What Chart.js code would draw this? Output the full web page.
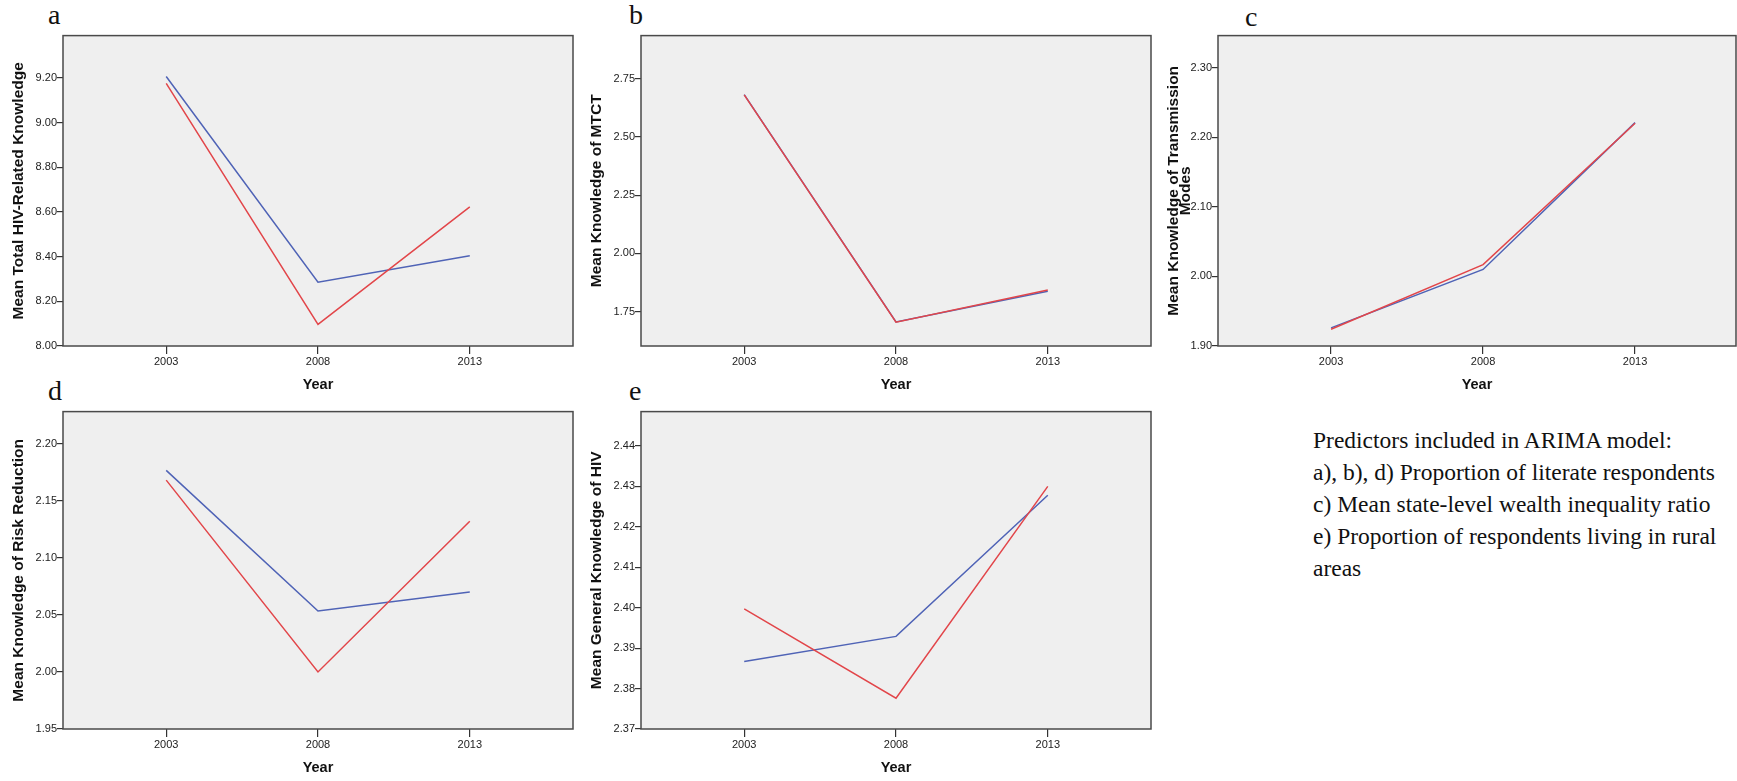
<!DOCTYPE html>
<html>
<head>
<meta charset="utf-8">
<script src="https://cdn.jsdelivr.net/npm/chart.js@4.4.1/dist/chart.umd.min.js"></script>
<style>
  html, body { margin: 0; padding: 0; background: #fff; }
  body { position: relative; width: 1737px; height: 781px; overflow: hidden; }
  .panel { position: absolute; }
  .panel canvas { display: block; }
  .letter {
    position: absolute;
    font-family: "Liberation Serif", "Times New Roman", serif;
    font-size: 28px; line-height: 28px; color: #111;
  }
  #note {
    position: absolute; left: 1313px; top: 424px;
    font-family: "Liberation Serif", "Times New Roman", serif;
    font-size: 23.5px; line-height: 32px; color: #111; white-space: nowrap;
  }
</style>
</head>
<body>

<div class="letter" style="left:48px;top:1px">a</div>
<div class="letter" style="left:629px;top:1px">b</div>
<div class="letter" style="left:1245px;top:3px">c</div>
<div class="letter" style="left:48px;top:377px">d</div>
<div class="letter" style="left:629px;top:377px">e</div>

<div id="note">
  <div>Predictors included in ARIMA model:</div>
  <div>a), b), d) Proportion of literate respondents</div>
  <div>c) Mean state-level wealth inequality ratio</div>
  <div>e) Proportion of respondents living in rural</div>
  <div>areas</div>
</div>

<script>
// survey rounds
const years = [2003, 2008, 2013];

// a) total HIV-related knowledge
const observedTotal = [9.207, 8.286, 8.404];
const fitTotal      = [9.176, 8.097, 8.623];
const ticksTotal    = [8.00, 8.20, 8.40, 8.60, 8.80, 9.00, 9.20];

// b) knowledge of MTCT
const observedMtct = [2.681, 1.706, 1.838];
const fitMtct      = [2.680, 1.705, 1.843];
const ticksMtct    = [1.75, 2.00, 2.25, 2.50, 2.75];

// c) knowledge of transmission modes
const observedTrans = [1.926, 2.010, 2.221];
const fitTrans      = [1.924, 2.017, 2.220];
const ticksTrans    = [1.90, 2.00, 2.10, 2.20, 2.30];

// d) knowledge of risk reduction
const observedRisk = [2.1765, 2.0534, 2.070];
const fitRisk      = [2.168, 2.000, 2.132];
const ticksRisk    = [1.95, 2.00, 2.05, 2.10, 2.15, 2.20];

// e) general knowledge of HIV
const observedGen = [2.3867, 2.3929, 2.4278];
const fitGen      = [2.3997, 2.3776, 2.4300];
const ticksGen    = [2.37, 2.38, 2.39, 2.40, 2.41, 2.42, 2.43, 2.44];

const BLUE = '#4f63b6';
const RED = '#e2464a';
const AXIS_W = 63;   // room for y ticks + title
const XAXIS_H = 55;  // room for year ticks + title
const PAD = 2;

const plotFrame = {
  id: 'plotFrame',
  beforeDraw(chart) {
    const { ctx, chartArea: a } = chart;
    ctx.save();
    ctx.fillStyle = '#efefef';
    ctx.fillRect(a.left, a.top, a.right - a.left, a.bottom - a.top);
    ctx.restore();
  },
  afterDraw(chart) {
    const { ctx, chartArea: a } = chart;
    ctx.save();
    ctx.strokeStyle = '#4a4a4a';
    ctx.lineWidth = 1.5;
    ctx.strokeRect(a.left, a.top, a.right - a.left, a.bottom - a.top);
    ctx.restore();
  }
};

function toPoints(vals) {
  return years.map((y, i) => ({ x: y, y: vals[i] }));
}

function buildPanel(p) {
  const [bx, by, bw, bh] = p.box;
  const w = bw + AXIS_W + PAD, h = bh + PAD + XAXIS_H;
  const wrap = document.createElement('div');
  wrap.className = 'panel';
  wrap.style.left = (bx - AXIS_W) + 'px';
  wrap.style.top = (by - PAD) + 'px';
  const cv = document.createElement('canvas');
  cv.width = w; cv.height = h;
  wrap.appendChild(cv);
  document.body.appendChild(wrap);

  const tickFont = { family: 'Liberation Sans, Arial, sans-serif', size: 11 };
  const titleFont = { family: 'Liberation Sans, Arial, sans-serif', size: 15.5, weight: 'bold' };

  new Chart(cv, {
    type: 'line',
    data: {
      datasets: [
        { label: 'Fit', data: toPoints(p.fit), borderColor: RED, borderWidth: 1.5, pointRadius: 0, tension: 0, fill: false },
        { label: 'Observed', data: toPoints(p.observed), borderColor: BLUE, borderWidth: 1.5, pointRadius: 0, tension: 0, fill: false }
      ]
    },
    options: {
      responsive: false,
      animation: false,
      layout: { padding: { top: PAD, right: PAD, left: 0, bottom: 0 } },
      plugins: { legend: { display: false }, tooltip: { enabled: false } },
      scales: {
        x: {
          type: 'linear',
          min: p.xMin || 1999.6, max: p.xMax || 2016.4,
          afterBuildTicks: s => { s.ticks = years.map(v => ({ value: v })); },
          afterFit: s => { s.height = XAXIS_H; },
          grid: { drawOnChartArea: false, tickLength: 8, color: '#333', lineWidth: 1.2 },
          border: { display: false },
          ticks: { autoSkip: false, maxRotation: 0, padding: 1, color: '#222', font: tickFont, callback: v => String(v) },
          title: { display: true, text: 'Year', color: '#111', font: { ...titleFont, size: 14.5 }, padding: { top: 0, bottom: 7 } }
        },
        y: {
          min: p.min, max: p.max,
          afterBuildTicks: s => { s.ticks = p.ticks.map(v => ({ value: v })); },
          afterFit: s => { s.width = AXIS_W; },
          grid: { drawOnChartArea: false, tickLength: 6, color: '#333', lineWidth: 1.2 },
          border: { display: false },
          ticks: { autoSkip: false, padding: 0, color: '#222', font: tickFont, callback: v => v.toFixed(2) },
          title: {
            display: true, text: p.title, color: '#111',
            font: { ...titleFont, lineHeight: p.titleLine || 1.2 },
            padding: { top: p.titlePad || 9.7, bottom: 0 }
          }
        }
      }
    },
    plugins: [plotFrame]
  });
}

const panels = [
  { box: [63, 31, 510, 315], min: 8.00, max: 9.39, ticks: ticksTotal,
    title: 'Mean Total HIV-Related Knowledge', observed: observedTotal, fit: fitTotal },
  { box: [641, 31, 510, 315], min: 1.603, max: 2.934, ticks: ticksMtct,
    title: 'Mean Knowledge of MTCT', observed: observedMtct, fit: fitMtct },
  { box: [1218, 31, 518, 315], min: 1.90, max: 2.346, ticks: ticksTrans, xMin: 1999.28, xMax: 2016.32,
    title: ['Mean Knowledge of Transmission', 'Modes'], titleLine: 0.75, titlePad: 13.2,
    observed: observedTrans, fit: fitTrans },
  { box: [63, 407, 510, 322], min: 1.95, max: 2.228, ticks: ticksRisk,
    title: 'Mean Knowledge of Risk Reduction', observed: observedRisk, fit: fitRisk },
  { box: [641, 407, 510, 322], min: 2.37, max: 2.4485, ticks: ticksGen,
    title: 'Mean General Knowledge of HIV', observed: observedGen, fit: fitGen }
];

panels.forEach(buildPanel);
</script>
</body>
</html>
